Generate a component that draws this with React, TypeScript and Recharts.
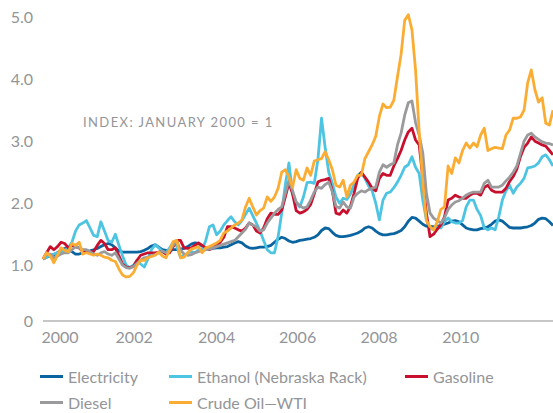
import { Line, LineChart, XAxis, YAxis } from "recharts";

// Monthly index values, January 2000 = 1 (Jan 2000 .. Oct 2011).
const ELECTRICITY = [
  1.0, 1.03, 1.05, 1.07, 1.1, 1.15, 1.17, 1.16, 1.12, 1.08, 1.08, 1.1,
  1.12, 1.13, 1.15, 1.17, 1.2, 1.23, 1.25, 1.23, 1.18, 1.13, 1.11, 1.11,
  1.11, 1.11, 1.11, 1.12, 1.14, 1.17, 1.21, 1.23, 1.19, 1.15, 1.14, 1.14,
  1.15, 1.15, 1.16, 1.17, 1.2, 1.24, 1.26, 1.25, 1.21, 1.18, 1.17, 1.17,
  1.18, 1.18, 1.19, 1.2, 1.23, 1.26, 1.28, 1.26, 1.21, 1.18, 1.17, 1.18,
  1.19, 1.19, 1.2, 1.22, 1.27, 1.32, 1.35, 1.33, 1.29, 1.27, 1.28, 1.3,
  1.31, 1.32, 1.33, 1.35, 1.39, 1.46, 1.5, 1.49, 1.43, 1.38, 1.36, 1.36,
  1.37, 1.38, 1.4, 1.42, 1.45, 1.5, 1.52, 1.5, 1.45, 1.41, 1.39, 1.39,
  1.4, 1.41, 1.43, 1.46, 1.52, 1.61, 1.67, 1.66, 1.61, 1.56, 1.53, 1.52,
  1.52, 1.53, 1.54, 1.56, 1.58, 1.61, 1.62, 1.6, 1.55, 1.5, 1.48, 1.47,
  1.47, 1.49, 1.5, 1.52, 1.56, 1.61, 1.63, 1.61, 1.56, 1.51, 1.5, 1.5,
  1.5, 1.51, 1.52, 1.54, 1.58, 1.64, 1.66, 1.65, 1.6, 1.54,
];

const ETHANOL = [
  1.0, 1.03, 1.06, 1.08, 1.1, 1.12, 1.14, 1.18, 1.27, 1.45, 1.55, 1.58,
  1.62, 1.5, 1.38, 1.36, 1.6, 1.45, 1.3, 1.27, 1.4, 1.22, 1.05, 0.9,
  0.86, 0.9, 0.98, 0.92, 0.87, 1.0, 1.15, 1.23, 1.18, 1.12, 1.1, 1.18,
  1.27, 1.2, 1.03, 1.06, 1.1, 1.12, 1.1, 1.15, 1.15, 1.3, 1.52, 1.55,
  1.39, 1.45, 1.55, 1.62, 1.68, 1.6, 1.55, 1.62, 1.72, 1.82, 1.7, 1.58,
  1.45, 1.3, 1.15, 1.1, 1.1, 1.36, 1.74, 2.2, 2.55, 2.05, 1.9, 1.84,
  2.0, 2.23, 2.24, 2.22, 2.6, 3.27, 2.8, 2.4, 2.22, 2.0, 1.9, 1.98,
  1.96, 2.05, 2.2, 2.35, 2.4, 2.3, 2.18, 2.1, 1.9, 1.63, 1.95, 2.06,
  2.08, 2.15, 2.24, 2.35, 2.48, 2.52, 2.65, 2.48, 2.38, 1.95, 1.63, 1.5,
  1.47, 1.52, 1.5, 1.6, 1.66, 1.6, 1.58, 1.58, 1.62, 1.84, 1.95, 1.95,
  1.8, 1.7, 1.5, 1.47, 1.5, 1.47, 1.68, 1.95, 2.1, 2.19, 2.06, 2.16,
  2.22, 2.3, 2.47, 2.48, 2.5, 2.55, 2.65, 2.68, 2.6, 2.5,
];

const GASOLINE = [
  1.0, 1.1, 1.2, 1.15, 1.2, 1.27, 1.25, 1.18, 1.22, 1.2, 1.18, 1.12,
  1.12, 1.12, 1.12, 1.22, 1.3, 1.25, 1.15, 1.15, 1.18, 1.05, 0.92, 0.87,
  0.86, 0.88, 0.98, 1.06, 1.08, 1.1, 1.1, 1.1, 1.11, 1.12, 1.08, 1.1,
  1.2, 1.3, 1.3, 1.18, 1.17, 1.18, 1.22, 1.26, 1.22, 1.18, 1.15, 1.18,
  1.23, 1.27, 1.35, 1.52, 1.52, 1.5, 1.47, 1.45, 1.5, 1.58, 1.55, 1.45,
  1.42, 1.5, 1.65, 1.74, 1.72, 1.72, 1.79, 2.0, 2.23, 2.05, 1.78, 1.74,
  1.76, 1.8, 1.88, 2.05, 2.24, 2.27, 2.28, 2.3, 2.1, 1.74, 1.72, 1.79,
  1.74, 1.85, 2.06, 2.3, 2.4, 2.32, 2.24, 2.14, 2.1, 2.3, 2.38, 2.35,
  2.35, 2.5, 2.62, 2.75, 2.92, 3.05, 3.11, 2.92, 2.84, 2.3, 1.74, 1.36,
  1.4, 1.48, 1.55, 1.68, 1.95, 1.98, 2.03, 2.0, 1.98, 1.98, 2.03, 2.06,
  2.06, 2.03, 2.15, 2.19, 2.11, 2.08, 2.08, 2.08, 2.14, 2.25, 2.33, 2.45,
  2.65, 2.8, 2.87, 2.97, 2.9, 2.87, 2.84, 2.82, 2.75, 2.68,
];

const DIESEL = [
  1.0, 1.08, 1.08, 1.02, 1.05, 1.08, 1.1, 1.1, 1.15, 1.2, 1.18, 1.15,
  1.15, 1.12, 1.08, 1.06, 1.1, 1.12, 1.08, 1.06, 1.1, 1.0, 0.9, 0.86,
  0.85, 0.88, 0.93, 0.98, 1.02, 1.03, 1.05, 1.07, 1.1, 1.13, 1.1, 1.13,
  1.22, 1.28, 1.15, 1.08, 1.06, 1.07, 1.1, 1.12, 1.13, 1.15, 1.16, 1.18,
  1.2, 1.22, 1.24, 1.26, 1.28, 1.3, 1.36, 1.42, 1.48, 1.58, 1.55, 1.52,
  1.45, 1.47, 1.58, 1.66, 1.74, 1.8, 1.84, 2.06, 2.27, 2.1, 1.92, 1.86,
  1.82, 1.84, 1.95, 2.08, 2.16, 2.14, 2.2, 2.24, 2.08, 1.85, 1.82, 1.92,
  1.84, 1.82, 2.0, 2.06, 2.1, 2.08, 2.12, 2.14, 2.16, 2.4, 2.52, 2.48,
  2.52, 2.55, 2.84, 3.03, 3.32, 3.52, 3.55, 3.2, 3.0, 2.71, 2.06, 1.74,
  1.66, 1.62, 1.58, 1.66, 1.8, 1.87, 1.92, 1.94, 1.98, 2.03, 2.06, 2.08,
  2.08, 2.08, 2.22, 2.27, 2.16, 2.16, 2.16, 2.19, 2.26, 2.32, 2.4, 2.5,
  2.7, 2.9, 3.0, 3.03, 2.97, 2.93, 2.89, 2.87, 2.86, 2.84,
];

const CRUDE = [
  1.0, 1.1, 1.05, 0.94, 1.06, 1.18, 1.14, 1.12, 1.25, 1.22, 1.27, 1.08,
  1.1, 1.08, 1.06, 1.08, 1.06, 1.03, 1.02, 0.98, 0.96, 0.84, 0.74, 0.71,
  0.72, 0.78, 0.9, 0.98, 0.98, 1.02, 1.04, 1.06, 1.11, 1.05, 1.02, 1.14,
  1.28, 1.3, 1.02, 1.03, 1.1, 1.16, 1.18, 1.2, 1.1, 1.18, 1.2, 1.23,
  1.26, 1.3, 1.42, 1.45, 1.5, 1.55, 1.58, 1.63, 1.84, 1.98, 1.84, 1.71,
  1.78, 1.82, 2.0, 1.93, 2.0, 2.14, 2.4, 2.44, 2.32, 2.16, 2.44, 2.3,
  2.27, 2.47, 2.35, 2.58, 2.6, 2.62, 2.73, 2.6, 2.44, 2.19, 2.16, 2.27,
  2.0, 2.19, 2.24, 2.35, 2.35, 2.62, 2.73, 2.84, 2.98, 3.3, 3.5, 3.44,
  3.45, 3.56, 3.94, 4.3, 4.85, 4.94, 4.7, 4.05, 3.05, 2.25, 1.62, 1.52,
  1.47, 1.6, 1.8, 1.84, 2.5, 2.38, 2.63, 2.55, 2.75, 2.87, 2.79, 2.87,
  2.81, 3.0, 3.11, 2.75, 2.78, 2.8, 2.79, 2.78, 3.0, 3.08, 3.27, 3.27,
  3.29, 3.4, 3.84, 4.05, 3.73, 3.53, 3.6, 3.19, 3.16, 3.4,
];

const Y_TICKS = [0, 1, 2, 3, 4, 5];
// Year labels sit where the source put them (month offsets from Jan 2000).
const X_TICKS = [4.7, 25.2, 48, 70.4, 92.9, 115.5];
const YEAR_LABELS = ["2000", "2002", "2004", "2006", "2008", "2010"];

const SERIES = [
  { key: "electricity", name: "Electricity", color: "#0a64a0", values: ELECTRICITY },
  { key: "ethanol", name: "Ethanol (Nebraska Rack)", color: "#4cc4e2", values: ETHANOL },
  { key: "gasoline", name: "Gasoline", color: "#c8102e", values: GASOLINE },
  { key: "diesel", name: "Diesel", color: "#9a9a9c", values: DIESEL },
  { key: "crude", name: "Crude Oil\u2014WTI", color: "#fbad33", values: CRUDE },
];

const DATA = CRUDE.map((_, i) => {
  const row: Record<string, number> = { m: i };
  SERIES.forEach((s) => {
    row[s.key] = s.values[i];
  });
  return row;
});

const TEXT = "#939598";
const FONT = "Lato, 'Open Sans', sans-serif";

function YTick({ x, y, payload }: any) {
  const v = payload.value as number;
  return (
    <text
      x={x - 10}
      y={v === 0 ? y : y + 6}
      dy="0.35em"
      textAnchor="end"
      fill={TEXT}
      fontSize={16}
      fontFamily={FONT}
    >
      {v === 0 ? "0" : v.toFixed(1)}
    </text>
  );
}

function XTick({ x, y, index }: any) {
  return (
    <text x={x} y={y + 16.5} dy="0.35em" textAnchor="middle" fill={TEXT} fontSize={16} fontFamily={FONT}>
      {YEAR_LABELS[index]}
    </text>
  );
}

// legend placement copied from the source: two rows, three columns
const LEGEND_POS = [
  { left: 40, top: 377 },
  { left: 169, top: 377 },
  { left: 405, top: 377 },
  { left: 40, top: 403 },
  { left: 169, top: 403 },
];

export default function App() {
  return (
    <div style={{ position: "absolute", left: 0, top: 0, width: 553, height: 413, background: "#fff", overflow: "hidden" }}>
      <LineChart width={553} height={413} data={DATA} margin={{ top: 11, right: 0, bottom: 62, left: 0 }}>
        <XAxis
          type="number"
          dataKey="m"
          domain={[0, 141]}
          ticks={X_TICKS}
          interval={0}
          tick={<XTick />}
          tickLine={false}
          tickSize={0}
          tickMargin={0}
          height={30}
          axisLine={{ stroke: "#b5b5b5", strokeWidth: 1.5 }}
        />
        <YAxis
          type="number"
          domain={[0, 5]}
          ticks={Y_TICKS}
          interval={0}
          tick={<YTick />}
          tickLine={false}
          tickSize={0}
          tickMargin={0}
          axisLine={false}
          width={43}
        />
        {SERIES.map((s) => (
          <Line
            key={s.key}
            type="linear"
            dataKey={s.key}
            name={s.name}
            stroke={s.color}
            strokeWidth={2.8}
            strokeLinejoin="round"
            dot={false}
            activeDot={false}
            isAnimationActive={false}
          />
        ))}
      </LineChart>
      <div
        style={{
          position: "absolute",
          left: 83,
          top: 113,
          fontFamily: FONT,
          fontSize: 13,
          lineHeight: "18px",
          letterSpacing: 1.4,
          color: TEXT,
          whiteSpace: "nowrap",
        }}
      >
        INDEX: JANUARY 2000 = 1
      </div>
      {SERIES.map((s, i) => (
        <div
          key={s.key}
          style={{
            position: "absolute",
            left: LEGEND_POS[i].left,
            top: LEGEND_POS[i].top - 11,
            height: 20,
            display: "flex",
            alignItems: "center",
            fontFamily: FONT,
            fontSize: 16,
            color: TEXT,
            whiteSpace: "nowrap",
          }}
        >
          <span style={{ display: "inline-block", width: 23, height: 3, background: s.color, marginRight: 5 }} />
          {s.name}
        </div>
      ))}
    </div>
  );
}
